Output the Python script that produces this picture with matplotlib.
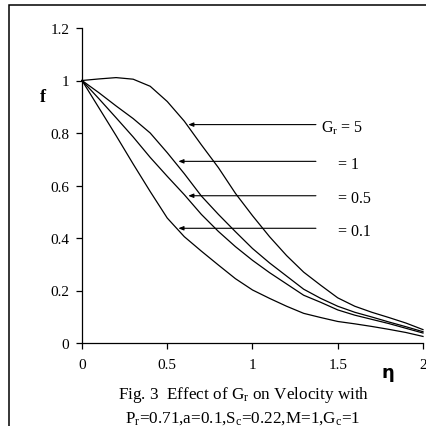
import matplotlib
matplotlib.use('Agg')
import matplotlib.pyplot as plt
from matplotlib.patches import Rectangle
import numpy as np

plt.rcParams['font.family'] = ['Liberation Serif', 'DejaVu Serif']
plt.rcParams['mathtext.fontset'] = 'custom'
plt.rcParams['mathtext.rm'] = 'Liberation Serif'
plt.rcParams['mathtext.it'] = 'Liberation Serif:italic'

eta = [0.0, 0.1, 0.2, 0.3, 0.4, 0.5, 0.6, 0.7, 0.8, 0.9, 1.0,
       1.1, 1.2, 1.3, 1.4, 1.5, 1.6, 1.7, 1.8, 1.9, 2.0]
f_gr5 = [1.0, 1.006, 1.011, 1.005, 0.978, 0.92, 0.845, 0.755, 0.668, 0.57, 0.485,
         0.405, 0.333, 0.27, 0.22, 0.172, 0.14, 0.117, 0.097, 0.076, 0.051]
f_gr1 = [1.0, 0.953, 0.903, 0.855, 0.80, 0.725, 0.645, 0.56, 0.49, 0.424, 0.36,
         0.305, 0.255, 0.205, 0.17, 0.14, 0.117, 0.099, 0.08, 0.062, 0.043]
f_gr05 = [1.0, 0.93, 0.858, 0.785, 0.707, 0.635, 0.565, 0.49, 0.425, 0.367, 0.315,
          0.268, 0.225, 0.182, 0.155, 0.126, 0.106, 0.09, 0.074, 0.056, 0.038]
f_gr01 = [1.0, 0.895, 0.79, 0.682, 0.577, 0.476, 0.405, 0.35, 0.297, 0.245, 0.202,
          0.17, 0.14, 0.113, 0.097, 0.082, 0.073, 0.063, 0.052, 0.04, 0.025]

xticks = [0, 0.5, 1, 1.5, 2]
xlabels = ['0', '0.5', '1', '1.5', '2']
yticks = [0, 0.2, 0.4, 0.6, 0.8, 1.0, 1.2]
ylabels = ['0', '0.2', '0.4', '0.6', '0.8', '1', '1.2']

fig = plt.figure(figsize=(4.27, 4.27), dpi=100)
ax = fig.add_axes([82/427, 83/427, 341/427, 315/427])

for f in (f_gr5, f_gr1, f_gr05, f_gr01):
    ax.plot(eta, f, color='black', lw=0.9, clip_on=False)

ax.set_xlim(0, 2)
ax.set_ylim(0, 1.2)
ax.set_xticks(xticks)
ax.set_xticklabels(xlabels)
ax.set_yticks(yticks)
ax.set_yticklabels(ylabels)
ax.tick_params(direction='out', length=4, width=0.9, labelsize=11, colors='black')
ax.tick_params(axis='x', pad=7)
ax.tick_params(axis='y', pad=5)
for s in ('top', 'right'):
    ax.spines[s].set_visible(False)
for s in ('left', 'bottom'):
    ax.spines[s].set_linewidth(0.9)

# arrows with labels
arrows = [((0.623, 0.832), 'G$_\\mathrm{r}$ = 5', 1.40),
          ((0.565, 0.692), '= 1', 1.50),
          ((0.623, 0.561), '= 0.5', 1.50),
          ((0.565, 0.437), '= 0.1', 1.50)]
for (tx, ty), lab, lx in arrows:
    ax.annotate('', xy=(tx, ty), xytext=(1.372, ty),
                arrowprops=dict(arrowstyle='-|>,head_length=0.3,head_width=0.12',
                                color='black', lw=0.8, shrinkA=0, shrinkB=0))
    ax.text(lx, ty - 0.01, lab, fontsize=11.5, va='center', ha='left')

fig.text(43/427, 1 - 97/427, 'f', fontsize=13, fontweight='bold', ha='center', va='center')
fig.text(388/427, 1 - 373/427, 'η', fontsize=13, fontweight='bold', ha='center', va='center',
         family=['DejaVu Sans'])

fig.text(244/427, 1 - 395/427, 'Fig. 3  Effect of G$_\\mathrm{r}$ on Velocity with',
         fontsize=12.3, ha='center', va='center')
fig.text(243/427, 1 - 419/427,
         'P$_\\mathrm{r}$=0.71,a=0.1,S$_\\mathrm{c}$=0.22,M=1,G$_\\mathrm{c}$=1',
         fontsize=12.3, ha='center', va='center')

fig.add_artist(Rectangle((9.5/427, -0.2), 1.0, 1.2 - 6/427, transform=fig.transFigure,
                         fill=False, edgecolor='black', lw=1.1, clip_on=False))

fig.savefig('out.png', dpi=100)
